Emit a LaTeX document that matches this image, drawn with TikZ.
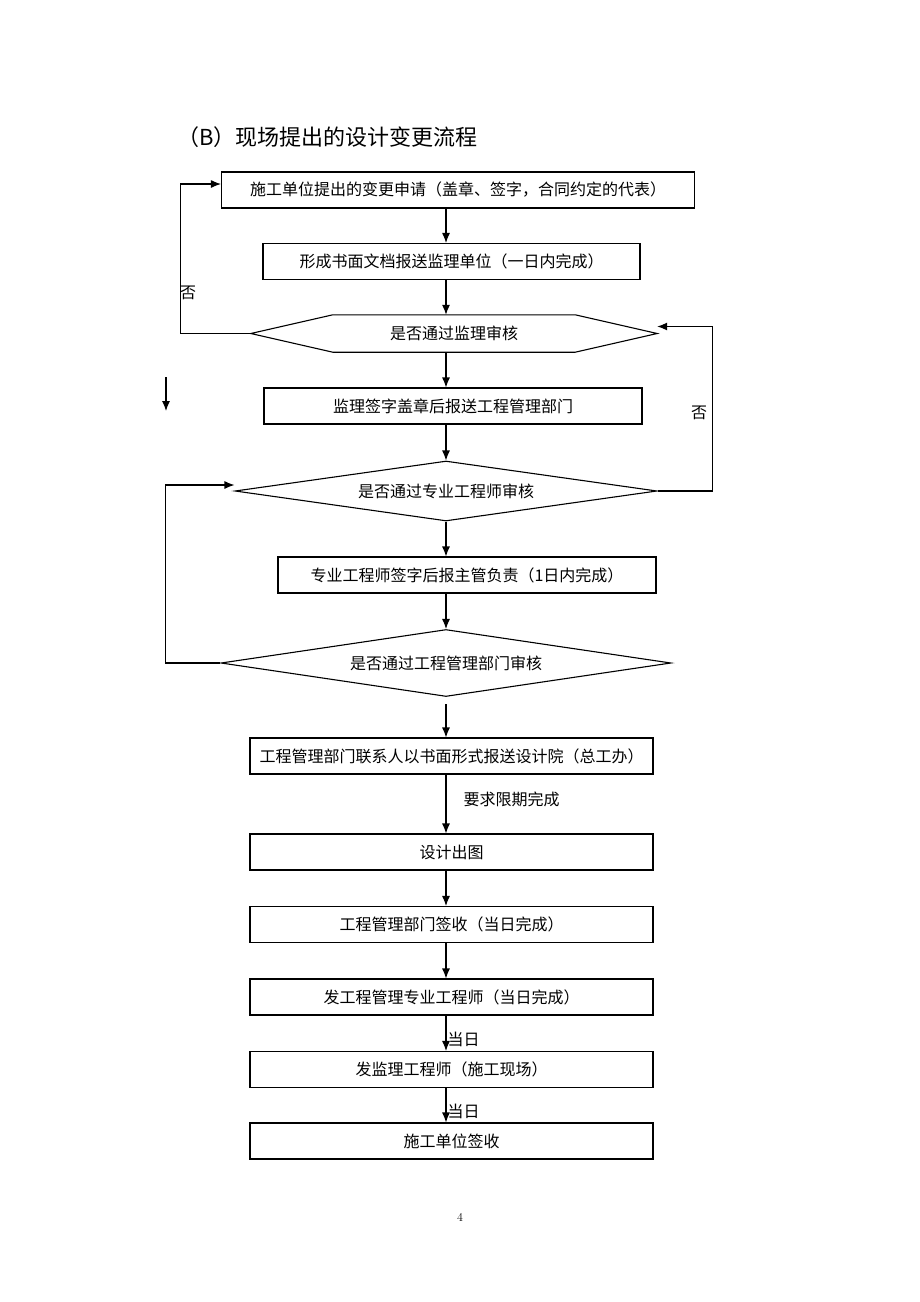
\documentclass[tikz,border=0pt]{standalone}
\usepackage{fontspec}
\newfontfamily\cjk{Noto Sans CJK SC}
\usetikzlibrary{shapes.geometric,arrows.meta}

\begin{document}
\begin{tikzpicture}[x=1pt,y=-1pt,
    font=\cjk\fontsize{16}{18}\selectfont,
    stepbox/.style={draw,line width=1.1pt,inner sep=0pt,minimum width=#1,minimum height=36pt},
    check/.style={draw,diamond,aspect=7,line width=1.1pt,miter limit=25,inner sep=0pt,minimum width=#1},
    arr/.style={line width=1.1pt,-{Latex[length=10pt,width=8pt]}},
    tag/.style={inner sep=1pt}]
    \useasboundingbox (0,0) rectangle (920,1302);

    % Title
    \node[anchor=west,font=\cjk\fontsize{22}{24}\selectfont] (title) at (174,137) {（B）现场提出的设计变更流程};

    % Steps and checks
    \node[stepbox=473pt] (apply) at (458,190) {施工单位提出的变更申请（盖章、签字，合同约定的代表）};
    \node[stepbox=377pt] (doc) at (451.5,261.5) {形成书面文档报送监理单位（一日内完成）};
    \node[inner sep=0pt,minimum width=406pt,minimum height=37pt] (svcheck) at (454,333.5) {是否通过监理审核};
    \draw[line width=1.1pt,miter limit=25] ([xshift=82pt]svcheck.north west) -- ([xshift=-82pt]svcheck.north east)
        -- (svcheck.east) -- ([xshift=-82pt]svcheck.south east)
        -- ([xshift=82pt]svcheck.south west) -- (svcheck.west) -- cycle;
    \node[stepbox=378pt] (sign) at (453,406) {监理签字盖章后报送工程管理部门};
    \node[check=422pt,minimum height=60pt] (eng) at (446,491) {是否通过专业工程师审核};
    \node[stepbox=378pt] (engsign) at (467,575) {专业工程师签字后报主管负责（1日内完成）};
    \node[check=450pt,minimum height=67pt] (dept) at (446,663) {是否通过工程管理部门审核};
    \node[stepbox=403pt] (contact) at (451.5,756) {工程管理部门联系人以书面形式报送设计院（总工办）};
    \node[stepbox=403pt] (design) at (451.5,852) {设计出图};
    \node[stepbox=403pt] (receipt) at (451.5,924.5) {工程管理部门签收（当日完成）};
    \node[stepbox=403pt] (toeng) at (451.5,997) {发工程管理专业工程师（当日完成）};
    \node[stepbox=403pt] (tosv) at (451.5,1069.5) {发监理工程师（施工现场）};
    \node[stepbox=403pt] (site) at (451.5,1141) {施工单位签收};

    % Main flow
    \coordinate (spine) at (446,0);
    \draw[arr] (spine |- apply.south) -- (spine |- doc.north);
    \draw[arr] (spine |- doc.south) -- (spine |- svcheck.north);
    \draw[arr] (spine |- svcheck.south) -- (spine |- sign.north);
    \draw[arr] (spine |- sign.south) -- (eng.north);
    \draw[arr] (eng.south) -- (spine |- engsign.north);
    \draw[arr] (spine |- engsign.south) -- (dept.north);
    \draw[arr] ([yshift=-7pt]dept.south) -- (spine |- contact.north);
    \draw[arr] (spine |- contact.south) -- (spine |- design.north)
        node[tag,anchor=west,pos=0.42,xshift=16pt] (limit) {要求限期完成};
    \draw[arr] (spine |- design.south) -- (spine |- receipt.north);
    \draw[arr] (spine |- receipt.south) -- (spine |- toeng.north);
    \draw[arr] (spine |- toeng.south) -- (spine |- tosv.north)
        node[tag,anchor=west,pos=0.67] (day1) {当日};
    \draw[arr] (spine |- tosv.south) -- (spine |- site.north)
        node[tag,anchor=west,pos=0.67] (day2) {当日};

    % Loops back
    \draw[arr] (svcheck.west) -- ++(-70,0) |- ([yshift=6pt]apply.west);
    \node (no1) at (188,293) {否};
    \draw[arr] (eng.east) -- ++(55,0) |- ([yshift=7pt]svcheck.east);
    \node (no2) at (699,413) {否};
    \draw[arr] (dept.west) -- ++(-55,0) |- ([yshift=6pt]eng.west);

    % Stray arrow
    \coordinate (s1) at (166,377);
    \coordinate (s2) at (166,411);
    \draw[arr] (s1) -- (s2);

    % Page number
    \node[font=\rmfamily\fontsize{12}{14}\selectfont] (page) at (460,1217) {4};
\end{tikzpicture}
\end{document}
